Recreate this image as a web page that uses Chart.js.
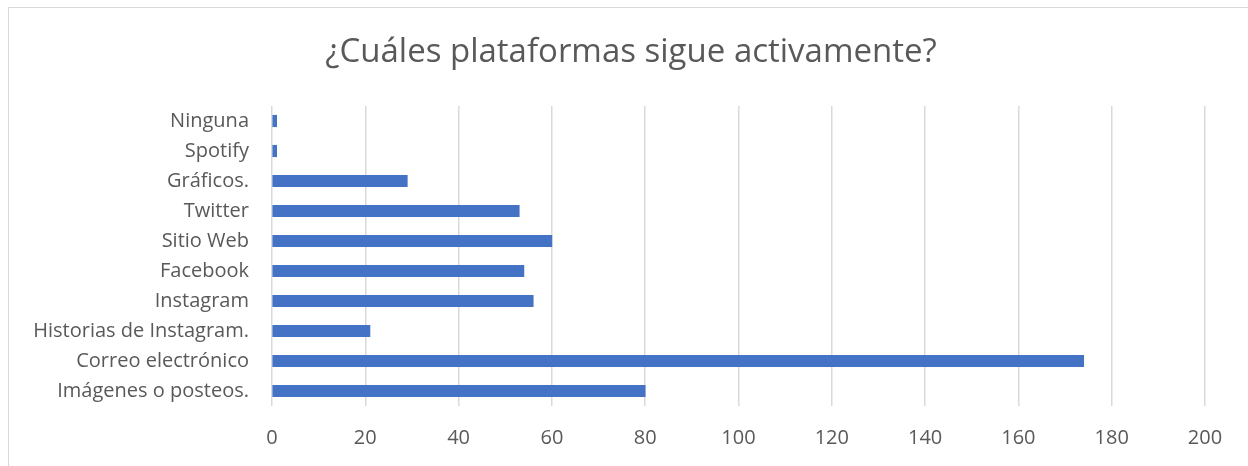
<!DOCTYPE html>
<html lang="es">
<head>
    <meta charset="UTF-8">
    <script src="https://cdn.jsdelivr.net/npm/chart.js"></script>
    <title>Plataformas</title>
    <style>
        html, body {
            margin: 0;
            padding: 0;
            background: #ffffff;
            overflow: hidden;
        }
        .marco {
            position: absolute;
            left: 8px;
            top: 7px;
            width: 1300px;
            height: 500px;
            border: 1px solid #d9d9d9;
        }
        .graph {
            position: absolute;
            left: 0;
            top: 0;
            width: 1248px;
            height: 466px;
        }
    </style>
</head>
<body>
    <div class="marco"></div>
    <div class="graph">
        <canvas id="plataformasChart" width="1248" height="466"></canvas>
    </div>
    <script>
        const categorias = ['Ninguna', 'Spotify', 'Gráficos.', 'Twitter', 'Sitio Web', 'Facebook', 'Instagram', 'Historias de Instagram.', 'Correo electrónico', 'Imágenes o posteos.'];
        const valores = [1, 1, 29, 53, 60, 54, 56, 21, 174, 80];
        const ejeMin = 0;
        const ejeMax = 200;
        const paso = 20;

        const fuente = "'Open Sans', 'Noto Sans', sans-serif";
        const gris = '#595959';

        const ctx = document.getElementById('plataformasChart').getContext('2d');
        const plataformasChart = new Chart(ctx, {
            type: 'bar',
            data: {
                labels: categorias,
                datasets: [{
                    label: 'Respuestas',
                    data: valores,
                    backgroundColor: '#4472c4',
                    borderWidth: 0,
                    barThickness: 11.5
                }]
            },
            options: {
                indexAxis: 'y',
                responsive: false,
                animation: false,
                layout: {
                    // left padding shifts the title centre to match the original
                    padding: { left: 14, right: 0, top: 0, bottom: 0 }
                },
                plugins: {
                    legend: { display: false },
                    tooltip: { enabled: false },
                    title: {
                        display: true,
                        text: '¿Cuáles plataformas sigue activamente?',
                        color: gris,
                        font: { family: fuente, size: 33, weight: 'normal', lineHeight: 1.2 },
                        padding: { top: 33, bottom: 33.4 }
                    }
                },
                scales: {
                    x: {
                        min: ejeMin,
                        max: ejeMax,
                        ticks: {
                            stepSize: paso,
                            color: gris,
                            padding: 20,
                            font: { family: fuente, size: 20 }
                        },
                        grid: {
                            color: '#d9d9d9',
                            lineWidth: 1.5,
                            drawTicks: false
                        },
                        border: { display: false },
                        afterFit: function (scale) { scale.height = 60; }
                    },
                    y: {
                        ticks: {
                            color: gris,
                            padding: 23,
                            font: { family: fuente, size: 20 }
                        },
                        grid: { display: false, drawTicks: false },
                        border: { display: false },
                        afterFit: function (scale) { scale.width = 258; }
                    },
                    margen: {
                        // empty right axis, keeps 43px free on the right
                        axis: 'y',
                        position: 'right',
                        ticks: { display: false },
                        grid: { display: false, drawTicks: false },
                        border: { display: false },
                        afterFit: function (scale) { scale.width = 43; }
                    }
                }
            }
        });
    </script>
</body>
</html>
